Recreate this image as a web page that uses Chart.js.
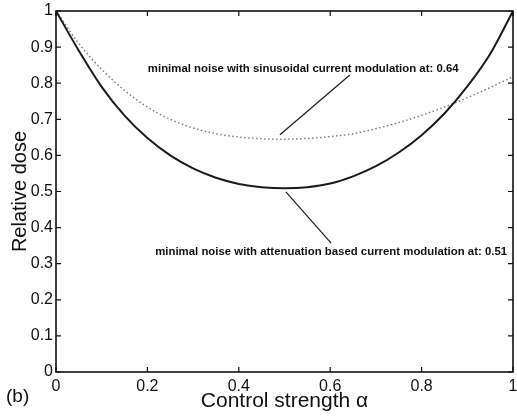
<!DOCTYPE html>
<html>
<head>
<meta charset="utf-8">
<script src="https://cdn.jsdelivr.net/npm/chart.js@4.4.1/dist/chart.umd.min.js"></script>
<style>
  html, body { margin: 0; padding: 0; background: #fff; }
  #wrap { width: 517px; height: 418px; }
</style>
</head>
<body>
<div id="wrap"><canvas id="chart" width="517" height="418"></canvas></div>
<script>
// ---- data ----
const alpha = [0, 0.05, 0.10, 0.15, 0.20, 0.25, 0.30, 0.35, 0.40, 0.45, 0.50,
               0.55, 0.60, 0.65, 0.70, 0.75, 0.80, 0.85, 0.90, 0.95, 1.00];
// solid: attenuation based current modulation
const doseAttenuation = [1.000, 0.890, 0.790, 0.710, 0.648, 0.600, 0.564, 0.538, 0.521, 0.512, 0.509,
                         0.512, 0.522, 0.542, 0.570, 0.608, 0.656, 0.716, 0.791, 0.881, 1.000];
// dotted: sinusoidal current modulation
const doseSinusoidal = [1.000, 0.910, 0.838, 0.780, 0.734, 0.700, 0.676, 0.660, 0.651, 0.646, 0.645,
                        0.647, 0.652, 0.660, 0.674, 0.691, 0.711, 0.734, 0.760, 0.788, 0.818];
const xRange = [0, 1];
const yRange = [0, 1];
const xStep = 0.2;
const yStep = 0.1;

const xTitle = 'Control strength \u03b1';
const yTitle = 'Relative dose';
const panelLabel = '(b)';

// annotation text + leader line, in data coordinates
const notes = [
  { text: 'minimal noise with sinusoidal current modulation at: 0.64',
    at: [0.201, 0.839], from: [0.643, 0.823], to: [0.490, 0.657] },
  { text: 'minimal noise with attenuation based current modulation at: 0.51',
    at: [0.217, 0.332], from: [0.602, 0.357], to: [0.503, 0.499] }
];

const FONT = '"Liberation Sans", Arial, Helvetica, sans-serif';
Chart.defaults.font.family = FONT;
Chart.defaults.color = '#111';

const tickText = v => String(+(+v).toFixed(1));

/** frame, inward ticks (matlab style), annotations, panel label */
const figurePlugin = {
  id: 'figure',
  afterDraw(chart) {
    const { ctx, chartArea: a, scales: { x, y } } = chart;
    ctx.save();
    ctx.strokeStyle = '#111';
    ctx.lineWidth = 1.6;
    ctx.strokeRect(a.left, a.top, a.right - a.left, a.bottom - a.top);

    ctx.lineWidth = 1.2;
    const tl = 5;
    ctx.beginPath();
    x.ticks.forEach(t => {
      const px = x.getPixelForValue(t.value);
      ctx.moveTo(px, a.bottom); ctx.lineTo(px, a.bottom - tl);
      ctx.moveTo(px, a.top); ctx.lineTo(px, a.top + tl);
    });
    y.ticks.forEach(t => {
      const py = y.getPixelForValue(t.value);
      ctx.moveTo(a.left, py); ctx.lineTo(a.left + tl, py);
      ctx.moveTo(a.right, py); ctx.lineTo(a.right - tl, py);
    });
    ctx.stroke();

    // annotations
    ctx.lineWidth = 1.3;
    ctx.strokeStyle = '#222';
    ctx.fillStyle = '#111';
    ctx.font = 'bold 11.4px ' + FONT;
    ctx.textBaseline = 'middle';
    ctx.textAlign = 'left';
    notes.forEach(n => {
      ctx.beginPath();
      ctx.moveTo(x.getPixelForValue(n.from[0]), y.getPixelForValue(n.from[1]));
      ctx.lineTo(x.getPixelForValue(n.to[0]), y.getPixelForValue(n.to[1]));
      ctx.stroke();
      ctx.fillText(n.text, x.getPixelForValue(n.at[0]), y.getPixelForValue(n.at[1]));
    });

    // panel label
    ctx.font = '19px ' + FONT;
    ctx.fillText(panelLabel, 6, 397);
    ctx.restore();
  }
};

new Chart(document.getElementById('chart'), {
  type: 'line',
  data: {
    datasets: [
      {
        label: 'attenuation based',
        data: alpha.map((a, i) => ({ x: a, y: doseAttenuation[i] })),
        borderColor: '#1b1b1b',
        borderWidth: 2,
        pointRadius: 0,
        cubicInterpolationMode: 'monotone',
        fill: false
      },
      {
        label: 'sinusoidal',
        data: alpha.map((a, i) => ({ x: a, y: doseSinusoidal[i] })),
        borderColor: '#808080',
        borderWidth: 1.5,
        borderDash: [1.5, 2.5],
        pointRadius: 0,
        cubicInterpolationMode: 'monotone',
        fill: false
      }
    ]
  },
  options: {
    responsive: false,
    animation: false,
    layout: { padding: { top: 11, right: 4, left: 0, bottom: 0 } },
    plugins: { legend: { display: false }, tooltip: { enabled: false } },
    scales: {
      x: {
        type: 'linear',
        min: xRange[0], max: xRange[1],
        grid: { display: false, drawTicks: false },
        border: { display: false },
        ticks: { stepSize: xStep, autoSkip: false, maxRotation: 0, padding: 5,
                 font: { size: 16 }, color: '#111', callback: tickText },
        title: { display: true, text: xTitle, font: { size: 21 }, color: '#111',
                 padding: { top: 0, bottom: 4 } },
        afterFit: s => { s.height = 46; s.paddingLeft = 0; s.paddingRight = 0; }
      },
      y: {
        type: 'linear',
        min: yRange[0], max: yRange[1],
        grid: { display: false, drawTicks: false },
        border: { display: false },
        ticks: { stepSize: yStep, autoSkip: false, padding: 3,
                 font: { size: 16 }, color: '#111', callback: tickText },
        title: { display: true, text: yTitle, font: { size: 20 }, color: '#111',
                 padding: { top: 8, bottom: 0 } },
        afterFit: s => { s.width = 56; s.paddingTop = 0; s.paddingBottom = 0; }
      }
    }
  },
  plugins: [figurePlugin]
});
</script>
</body>
</html>
